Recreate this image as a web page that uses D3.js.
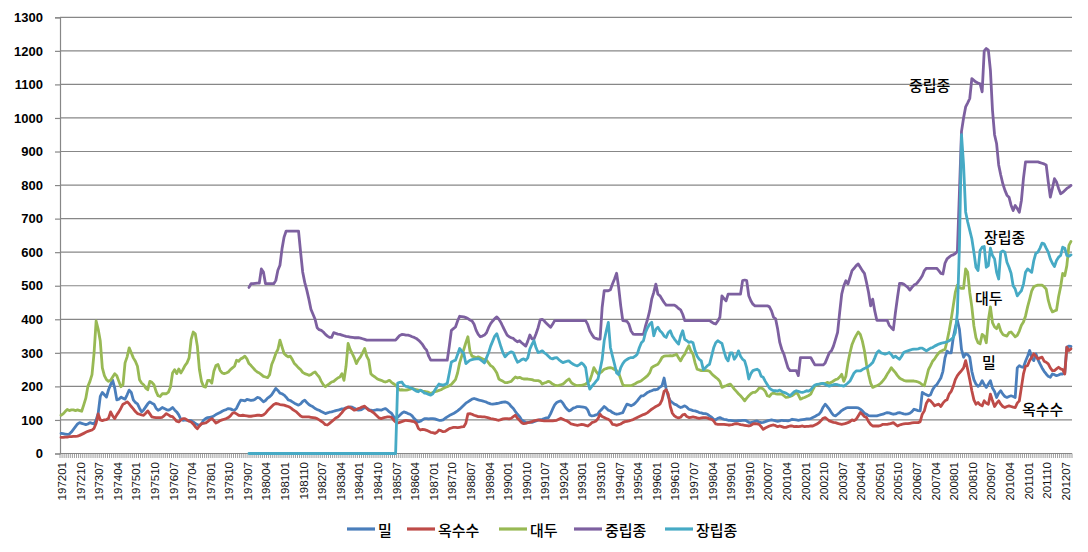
<!DOCTYPE html>
<html><head><meta charset="utf-8">
<script src="https://cdn.jsdelivr.net/npm/d3@7"></script>
<style>body{margin:0;background:#fff}svg{display:block}</style>
</head><body>
<svg id="chart" width="1088" height="552"></svg>
<script>
// ---- categories: monthly, 197201 .. 201210 ----
const firstYear = 1972, lastYear = 2012, lastMonth = 10;
const categories = [];
for (let y = firstYear; y <= lastYear; y++) for (let m = 1; m <= 12; m++) {
  if (y === lastYear && m > lastMonth) break;
  categories.push(String(y) + (m < 10 ? "0" + m : m));
}
const tickLabels = ["197201","197210","197307","197404","197501","197510","197607","197704","197801","197810","197907","198004","198101","198110","198207","198304","198401","198410","198507","198604","198701","198710","198807","198904","199001","199010","199107","199204","199301","199310","199407","199504","199601","199610","199707","199804","199901","199910","200007","200104","200201","200210","200307","200404","200501","200510","200607","200704","200801","200810","200907","201004","201101","201110","201207"];
const yTicks = [0,100,200,300,400,500,600,700,800,900,1000,1100,1200,1300];
const seriesNames = ["밀","옥수수","대두","중립종","장립종"];
const seriesColors = ["#4a7ebb","#be4b48","#98b954","#7d60a0","#46aac5"];

// 밀 (wheat)
const wheat = [
60,59,58,57,58,64,72,80,88,92,90,88,
86,88,92,90,88,100,120,170,182,175,168,190,
205,218,195,160,162,168,165,162,175,189,182,160,
152,148,135,124,130,139,148,154,150,147,135,129,
132,137,134,131,129,132,137,130,124,115,102,99,
100,99,99,98,94,90,86,84,88,99,104,107,
108,109,112,116,119,122,126,129,131,134,133,130,
129,135,148,159,158,157,161,160,158,159,162,167,
166,160,154,158,165,169,175,185,194,188,180,178,
174,168,160,158,154,150,147,144,148,155,159,152,
146,142,139,134,131,129,125,122,119,121,123,124,
126,128,129,131,133,134,136,137,139,138,135,131,
129,130,133,137,135,131,129,128,129,131,130,129,
132,134,130,124,120,110,104,108,114,120,124,122,
119,117,112,104,98,94,96,100,104,104,103,104,
104,103,101,99,99,100,105,109,113,116,119,123,
127,132,138,144,150,154,158,162,164,162,160,158,
157,155,153,150,148,147,148,149,150,152,153,154,
152,148,140,134,125,117,110,100,96,93,92,94,
93,95,97,99,101,102,104,106,107,118,132,145,
152,155,157,150,140,132,127,130,135,137,140,140,
139,138,137,130,115,112,113,115,118,127,133,140,
135,129,127,122,119,117,118,120,122,135,147,145,
142,145,150,157,165,172,172,177,182,185,187,190,
190,192,198,202,225,192,170,157,152,147,145,140,
137,139,142,138,132,130,128,127,125,122,121,119,
119,117,112,108,102,100,105,107,104,102,101,99,
99,98,97,97,98,98,99,99,97,93,92,94,
96,97,94,92,93,95,97,99,100,99,97,96,
97,99,98,98,97,99,102,101,100,99,100,101,
102,103,103,104,107,110,114,117,125,138,147,140,
132,122,114,112,117,122,128,132,135,137,137,137,
137,137,136,132,127,120,117,113,112,112,112,112,
114,116,117,120,122,121,119,117,118,121,122,120,
118,117,118,120,125,132,130,128,127,182,178,175,
172,175,190,200,205,215,225,245,285,305,300,300,
345,375,397,370,310,287,297,295,287,245,220,207,
200,205,217,205,197,207,217,195,185,167,180,187,
177,170,167,170,172,170,167,255,262,258,257,275,
290,307,285,277,297,280,267,255,245,237,230,227,
237,235,232,234,237,237,240,317,320,319];

// 옥수수 (corn)
const corn = [
48,48,49,49,50,50,51,51,52,54,57,60,
63,66,68,70,75,90,118,100,98,100,101,105,
124,112,104,115,124,135,147,150,154,148,140,133,
125,119,117,115,114,120,127,118,109,108,107,107,
107,108,113,119,115,111,110,103,96,94,100,104,
104,100,96,94,88,80,74,82,89,90,91,95,
100,104,98,91,94,98,100,102,104,107,112,120,
122,118,114,113,114,113,112,111,111,112,113,114,
114,113,115,120,128,134,140,146,149,148,146,145,
144,142,140,137,132,128,124,118,112,109,109,109,
109,108,107,106,104,100,96,92,86,85,90,95,
100,106,109,115,122,130,135,139,137,133,129,131,
134,136,139,141,135,129,127,123,118,112,106,104,
106,108,109,109,108,100,94,91,93,95,97,99,
98,97,96,95,90,75,70,72,71,69,66,63,
62,60,63,70,68,65,66,70,74,76,78,78,
77,78,79,80,90,118,119,117,114,112,110,110,
109,109,108,106,104,103,102,100,99,101,103,104,
104,103,105,110,114,105,99,92,89,90,92,93,
95,97,99,100,99,98,97,97,97,97,97,98,
99,102,105,102,99,97,93,88,87,85,84,85,
87,86,84,82,86,92,94,97,104,117,110,107,
104,102,97,87,86,84,86,88,92,95,96,97,
99,101,104,107,110,113,116,118,122,127,132,136,
140,143,147,160,185,190,177,140,120,112,108,106,
108,115,117,110,107,108,109,108,106,105,106,107,
107,106,103,102,97,88,87,87,87,87,86,85,
85,86,88,89,88,86,85,84,83,82,84,88,
89,88,87,80,72,76,79,82,84,85,83,80,
82,80,78,78,80,82,82,80,81,80,81,82,
80,81,81,82,82,85,88,92,98,105,107,102,
97,95,93,92,90,88,87,88,90,92,95,100,
98,102,112,122,117,110,107,95,87,82,82,82,
82,84,87,87,87,88,90,92,87,82,85,87,
88,89,89,90,91,92,92,92,95,117,127,150,
160,157,150,142,145,147,140,150,157,160,177,185,
200,220,232,240,247,255,277,250,220,187,160,147,
152,145,142,157,150,147,177,157,140,150,157,147,
140,137,140,142,140,138,137,150,157,197,237,260,
262,277,287,297,290,282,285,287,275,272,267,255,
247,247,252,257,252,250,237,317,307,312];

// 대두 (soybean)
const soybean = [
114,118,125,131,128,130,130,128,130,128,126,145,
165,200,215,235,300,395,370,335,255,232,220,215,
218,228,238,232,215,199,205,270,288,315,300,285,
275,260,220,210,205,195,190,215,212,205,185,172,
170,178,178,178,183,198,240,250,238,252,240,250,
262,270,285,340,362,357,320,250,215,200,198,218,
218,210,245,262,265,248,240,238,240,243,250,255,
260,278,275,282,285,290,282,268,262,255,248,243,
240,235,230,228,226,235,265,280,298,310,338,318,
298,292,288,290,280,268,262,255,250,242,238,236,
233,235,240,243,235,228,215,205,199,204,208,213,
215,220,225,228,238,218,260,328,310,298,285,268,
280,288,300,313,290,278,238,232,228,223,220,218,
215,213,215,218,212,208,204,195,189,190,189,189,
190,192,194,192,190,189,188,186,185,184,182,179,
182,184,186,188,190,194,197,199,202,206,213,220,
240,270,290,310,330,348,305,290,288,285,288,285,
282,280,278,270,262,258,250,240,222,218,215,211,
211,213,215,222,228,225,227,224,222,222,222,221,
220,218,217,217,215,207,210,212,215,212,207,204,
202,203,205,207,212,218,222,212,207,204,202,203,
203,205,207,212,217,235,256,245,237,240,245,251,
253,255,256,254,250,247,240,222,205,202,202,202,
202,205,208,212,214,217,222,227,232,240,256,260,
263,266,275,286,290,291,291,292,291,293,296,285,
276,288,296,310,321,305,296,270,251,249,247,247,
247,247,245,238,232,227,222,215,197,200,202,205,
207,200,192,185,178,172,165,157,165,172,178,182,
182,187,195,195,192,185,172,170,178,180,178,177,
178,177,172,167,168,170,172,177,182,175,162,165,
167,170,173,177,190,201,204,206,208,209,208,212,
209,212,216,220,222,228,236,215,230,270,300,325,
340,352,362,355,335,306,265,236,210,197,200,202,
205,210,217,225,236,245,256,248,241,232,225,221,
218,216,216,216,216,216,215,213,210,205,202,225,
250,262,275,282,292,300,305,308,310,335,365,400,
440,480,502,495,492,492,550,540,480,437,380,345,
330,327,355,350,330,397,437,390,377,372,385,365,
355,352,350,360,362,355,348,352,365,382,392,410,
437,460,485,497,500,502,502,502,497,490,457,435,
422,425,427,467,497,537,530,560,620,632];

const N = null;
// 중립종 (medium grain rice) - starts 197908
const mediumRice = [
N,N,N,N,N,N,N,N,N,N,N,N, N,N,N,N,N,N,N,N,N,N,N,N,
N,N,N,N,N,N,N,N,N,N,N,N, N,N,N,N,N,N,N,N,N,N,N,N,
N,N,N,N,N,N,N,N,N,N,N,N, N,N,N,N,N,N,N,N,N,N,N,N,
N,N,N,N,N,N,N,N,N,N,N,N,
N,N,N,N,N,N,N,495,506,506,507,508,
508,550,541,506,506,506,506,506,516,546,561,610,
645,663,663,663,663,663,663,663,600,541,510,487,
460,430,415,400,375,369,367,362,355,350,346,346,
360,358,356,355,353,351,349,348,347,346,345,345,
345,344,342,340,338,338,338,338,338,338,338,338,
338,338,338,338,338,338,338,345,352,355,354,353,
353,351,348,346,343,338,332,325,315,308,290,278,
278,278,278,278,278,278,278,278,320,367,372,377,
395,409,408,407,405,402,398,395,385,367,355,348,
350,353,360,375,387,395,402,407,400,390,377,365,
353,348,345,343,337,333,336,330,325,320,335,353,
342,341,357,375,398,400,395,388,382,376,385,396,
396,396,396,396,396,396,396,396,396,396,396,396,
396,396,396,385,366,355,346,343,341,341,435,485,
485,485,488,505,520,537,495,440,396,395,394,385,
365,356,355,355,355,355,355,380,400,425,460,480,
505,475,470,460,450,442,442,442,442,442,438,432,
428,415,396,396,396,396,396,396,396,396,396,396,
396,396,396,392,388,386,395,406,470,462,455,475,
475,475,475,475,475,475,515,517,515,470,455,445,
440,440,440,440,440,440,440,437,425,406,401,370,
331,310,296,275,255,247,247,247,247,232,286,286,
286,286,286,286,275,264,264,264,264,264,270,285,
300,306,320,340,361,420,475,500,515,505,525,545,
552,560,565,555,545,537,510,480,440,460,425,397,
397,397,397,397,397,382,375,369,420,465,507,507,
505,500,495,487,495,502,505,512,520,530,545,552,
552,552,552,552,552,545,537,535,567,580,585,590,
592,596,602,780,960,1000,1033,1045,1058,1117,1112,1107,
1104,1102,1078,1200,1207,1202,1142,1023,950,923,860,830,
804,785,770,764,740,724,739,730,719,754,820,869,
869,869,869,869,869,869,867,865,863,860,810,764,
790,819,809,790,774,778,784,790,794,799];

// 장립종 (long grain rice) - starts 197908, zero until 198507
const longRice = [
N,N,N,N,N,N,N,N,N,N,N,N, N,N,N,N,N,N,N,N,N,N,N,N,
N,N,N,N,N,N,N,N,N,N,N,N, N,N,N,N,N,N,N,N,N,N,N,N,
N,N,N,N,N,N,N,N,N,N,N,N, N,N,N,N,N,N,N,N,N,N,N,N,
N,N,N,N,N,N,N,N,N,N,N,N,
N,N,N,N,N,N,N,0,0,0,0,0,
0,0,0,0,0,0,0,0,0,0,0,0,
0,0,0,0,0,0,0,0,0,0,0,0,
0,0,0,0,0,0,0,0,0,0,0,0,
0,0,0,0,0,0,0,0,0,0,0,0,
0,0,0,0,0,0,0,0,0,0,0,0,
0,0,0,0,0,0,0,210,212,213,204,200,
199,196,194,190,186,184,189,185,180,179,176,174,
178,189,198,207,205,204,206,209,240,273,276,278,
295,313,305,298,268,273,278,280,281,282,283,280,
275,270,285,300,320,335,350,357,338,318,300,288,
295,300,303,300,285,272,275,280,282,278,285,311,
325,336,315,301,303,306,300,296,290,284,282,285,
286,280,275,271,273,275,276,270,266,263,261,265,
270,265,256,215,192,200,207,215,222,250,280,336,
365,391,316,290,266,240,235,256,268,276,280,284,
286,286,290,296,315,330,336,361,375,385,391,351,
370,376,366,360,350,346,360,366,350,341,333,326,
350,366,340,336,331,333,330,306,290,281,276,250,
255,262,266,290,315,330,336,332,328,305,285,276,
300,300,281,290,306,290,281,276,255,222,238,247,
249,251,247,230,227,215,205,195,190,187,187,186,
189,185,182,180,176,172,178,184,187,185,183,182,
184,187,186,190,198,204,206,207,208,209,206,203,
201,203,205,206,205,203,202,201,205,210,216,228,
240,246,246,246,250,253,256,260,265,271,285,300,
306,300,298,296,298,301,295,286,290,285,281,290,
301,304,306,308,310,311,311,312,314,314,310,306,
310,314,316,320,323,326,328,330,331,333,336,340,
346,360,420,620,950,860,720,690,665,640,600,555,
545,605,615,617,555,560,612,590,580,540,520,600,
604,600,570,555,537,500,490,470,478,485,505,540,
550,545,540,575,597,600,612,627,625,612,600,580,
567,557,575,585,590,615,612,590,588,592];

const seriesData = [wheat, corn, soybean, mediumRice, longRice];

// ---- drawing ----
const svg = d3.select("#chart");
const plot = {left: 60, right: 1072, top: 17.3, bottom: 453.5};
const x = d3.scaleBand().domain(categories).range([plot.left, plot.right]).padding(0);
const bw = x.bandwidth();
const y = d3.scaleLinear().domain([0, 1300]).range([plot.bottom, plot.top]);
const gridColor = "#878787";

// gridlines
svg.append("g").selectAll("line").data(yTicks.filter(v => v > 0)).join("line")
  .attr("x1", plot.left).attr("x2", plot.right)
  .attr("y1", d => y(d)).attr("y2", d => y(d))
  .attr("stroke", gridColor).attr("stroke-width", 1.2);

// y axis
const yAxis = d3.axisLeft(y).tickValues(yTicks).tickSize(5).tickPadding(12).tickFormat(d3.format("d"));
const gy = svg.append("g").attr("transform", `translate(${plot.left},0)`).call(yAxis);
gy.select(".domain").attr("stroke", gridColor).attr("stroke-width", 1.2);
gy.selectAll(".tick line").attr("stroke", gridColor).attr("stroke-width", 1.2);
gy.selectAll(".tick text").attr("font-family", "Arial, 'Liberation Sans', sans-serif")
  .attr("font-size", 13).attr("font-weight", "bold").attr("fill", "#000");

// x axis baseline and per-category ticks
svg.append("line").attr("x1", plot.left).attr("x2", plot.right)
  .attr("y1", plot.bottom).attr("y2", plot.bottom).attr("stroke", gridColor).attr("stroke-width", 1.2);
const bounds = categories.map(c => x(c)).concat([x(categories[categories.length - 1]) + bw]);
svg.append("g").selectAll("line").data(bounds).join("line")
  .attr("x1", d => d).attr("x2", d => d)
  .attr("y1", plot.bottom).attr("y2", plot.bottom + 4.5)
  .attr("stroke", gridColor).attr("stroke-width", 0.8);

// x labels
svg.append("g").selectAll("text").data(tickLabels).join("text")
  .attr("transform", d => `translate(${x(d) + bw / 2 + 1},462) rotate(-90)`)
  .attr("text-anchor", "end").attr("dominant-baseline", "central")
  .attr("font-family", "Arial, 'Liberation Sans', sans-serif").attr("font-size", 11.5)
  .attr("fill", "#111").text(d => d);

// series lines
const line = d3.line()
  .defined(d => d != null)
  .x((d, i) => x(categories[i]) + bw / 2)
  .y(d => y(d));
svg.append("g").selectAll("path").data(seriesData).join("path")
  .attr("d", d => line(d))
  .attr("fill", "none")
  .attr("stroke", (d, i) => seriesColors[i])
  .attr("stroke-width", 2.8)
  .attr("stroke-linejoin", "round").attr("stroke-linecap", "round");

// annotations
const koFont = "'Noto Sans CJK KR', 'Noto Sans', sans-serif";
const notes = [
  {t: "중립종", x: 909, y: 84},
  {t: "장립종", x: 984, y: 236},
  {t: "대두", x: 975, y: 297},
  {t: "밀", x: 982, y: 361},
  {t: "옥수수", x: 1022, y: 408}
];
svg.append("g").selectAll("text").data(notes).join("text")
  .attr("x", d => d.x).attr("y", d => d.y).attr("dominant-baseline", "central")
  .attr("font-family", koFont).attr("font-size", 15).attr("font-weight", 500)
  .attr("fill", "#000").text(d => d.t);

// legend
const legendItems = [
  {x: 347}, {x: 407}, {x: 499}, {x: 574}, {x: 665}
];
const lg = svg.append("g").selectAll("g").data(seriesNames).join("g")
  .attr("transform", (d, i) => `translate(${legendItems[i].x},529)`);
lg.append("line").attr("x1", 0).attr("x2", 28).attr("y1", 0).attr("y2", 0)
  .attr("stroke", (d, i) => seriesColors[i]).attr("stroke-width", 3.2);
lg.append("text").attr("x", 31).attr("y", 0).attr("dominant-baseline", "central")
  .attr("font-family", koFont).attr("font-size", 15).attr("font-weight", 500)
  .attr("fill", "#000").text(d => d);
</script>
</body></html>
